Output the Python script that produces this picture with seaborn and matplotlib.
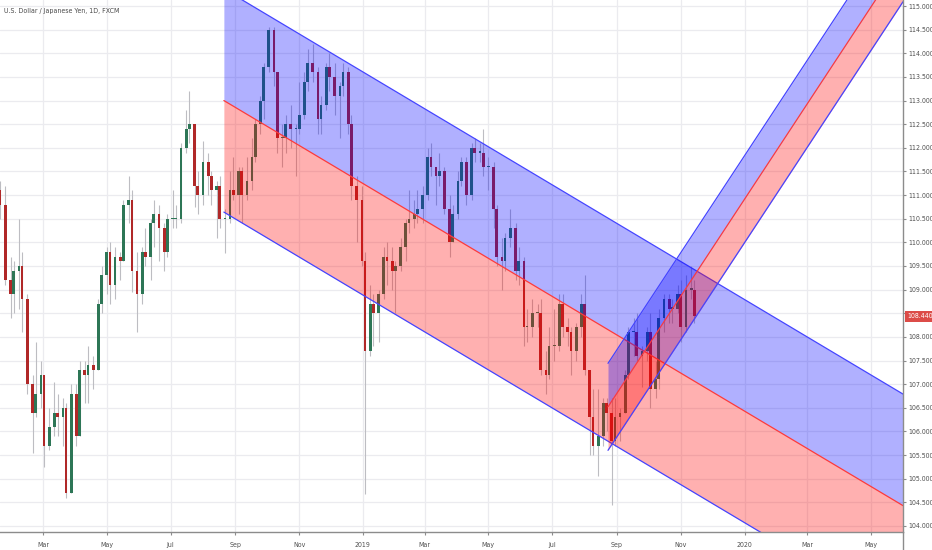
import numpy as np
import pandas as pd
import matplotlib
matplotlib.use("Agg")
import matplotlib.pyplot as plt
import matplotlib.dates as mdates
import matplotlib.transforms as mtransforms
from matplotlib import font_manager as fm
from matplotlib.ticker import MultipleLocator, FuncFormatter
from matplotlib.lines import Line2D
import seaborn as sns

# ---------------- data (USD/JPY, one candle per 3 trading days) ----------------
title = "U.S. Dollar / Japanese Yen, 1D, FXCM"
first_bar = "2018-01-19"
first_open = 111.1
closes = [110.8, 109.2, 108.9, 109.4, 109.5, 108.8, 107.0, 106.4, 106.8, 107.2,
          105.7, 106.1, 106.4, 106.3, 106.5, 104.7, 106.8, 105.9, 107.3, 107.2,
          107.4, 107.3, 108.7, 109.3, 109.8, 109.1, 109.7, 109.6, 110.8, 110.9,
          109.4, 108.9, 109.8, 109.7, 110.4, 110.6, 110.3, 109.8, 110.5, 110.5,
          110.5, 112.0, 112.4, 112.5, 111.2, 111.0, 111.7, 111.4, 111.1, 111.2,
          110.5, 110.5, 111.1, 111.0, 111.5, 111.0, 111.3, 111.8, 112.5, 113.0,
          113.7, 114.5, 113.6, 112.2, 112.2, 112.5, 112.4, 112.4, 112.7, 113.4,
          113.8, 113.6, 112.6, 112.9, 113.7, 113.5, 113.1, 113.3, 113.6, 112.5,
          111.2, 110.9, 109.6, 107.7, 108.7, 108.5, 108.9, 109.7, 109.6, 109.4,
          109.5, 109.9, 110.4, 110.5, 110.6, 110.7, 111.0, 111.8, 111.6, 111.4,
          111.5, 110.7, 110.0, 110.6, 111.3, 111.7, 111.0, 112.0, 111.9, 111.9,
          111.6, 111.6, 110.7, 109.7, 109.6, 110.1, 110.3, 109.4, 109.6, 108.2,
          108.2, 108.5, 108.5, 107.3, 107.2, 107.8, 107.8, 108.7, 108.2, 108.1,
          107.7, 108.2, 108.7, 107.3, 106.3, 105.7, 105.9, 106.6, 106.4, 105.8,
          106.3, 106.4, 107.2, 108.1, 108.1, 107.6, 107.7, 108.1, 106.9, 107.1,
          108.4, 108.8, 108.6, 108.6, 108.9, 108.2, 109.0, 109.0, 108.44]
highs = [111.3, 111.2, 109.7, 109.6, 110.5, 109.8, 108.9, 107.2, 107.9, 107.5,
         107.2, 106.5, 107.05, 106.8, 106.7, 106.6, 107.0, 107.0, 107.5, 107.5,
         107.8, 107.6, 108.8, 109.5, 109.9, 110.0, 109.9, 109.8, 110.9, 111.4,
         111.1, 109.8, 109.9, 110.3, 110.5, 110.9, 110.8, 110.4, 110.6, 111.1,
         110.8, 112.1, 112.8, 113.2, 112.5, 111.5, 112.15, 111.9, 111.5, 111.3,
         111.4, 110.7, 111.5, 111.8, 111.6, 111.6, 111.8, 112.2, 112.6, 113.1,
         113.8, 114.55, 114.55, 113.6, 112.5, 112.7, 112.9, 112.5, 113.4, 113.6,
         114.1, 114.2, 113.7, 113.1, 113.8, 114.0, 113.8, 113.4, 113.8, 113.7,
         112.7, 111.4, 111.2, 109.8, 109.1, 108.9, 109.0, 109.9, 110.0, 109.9,
         109.6, 110.1, 110.5, 111.1, 110.9, 111.1, 111.2, 112.0, 112.1, 111.6,
         111.9, 111.6, 111.0, 110.8, 111.5, 111.8, 111.8, 112.1, 112.2, 112.1,
         112.4, 111.8, 111.7, 110.8, 110.1, 110.2, 110.7, 110.4, 109.9, 109.7,
         108.6, 108.8, 108.7, 108.8, 107.7, 108.2, 108.6, 108.9, 108.9, 108.4,
         108.2, 108.3, 108.9, 109.3, 107.3, 106.9, 106.9, 106.7, 106.7, 106.7,
         106.7, 106.5, 107.3, 108.2, 108.4, 108.5, 107.8, 108.2, 108.5, 107.5,
         108.6, 108.9, 108.9, 108.8, 109.1, 109.2, 109.3, 109.5, 109.2]
lows = [110.5, 109.1, 108.4, 108.5, 108.6, 108.1, 106.8, 105.55, 106.3, 106.5,
        105.25, 105.6, 105.9, 105.9, 105.7, 104.6, 104.7, 105.7, 105.9, 106.6,
        106.6, 106.9, 107.3, 108.5, 108.9, 108.7, 108.8, 109.2, 109.6, 110.4,
        108.95, 108.1, 108.7, 109.5, 109.2, 109.9, 109.6, 109.4, 109.7, 110.3,
        110.3, 110.4, 111.9, 112.1, 110.75, 110.6, 110.8, 111.0, 110.8, 110.1,
        110.3, 109.77, 110.4, 110.9, 110.6, 110.4, 110.9, 111.1, 111.7, 112.3,
        112.6, 113.6, 113.3, 111.9, 111.6, 111.9, 112.0, 111.4, 112.3, 112.6,
        113.2, 113.4, 112.3, 112.3, 112.8, 113.2, 112.7, 112.2, 113.1, 112.3,
        110.9, 110.0, 109.5, 104.68, 107.6, 107.8, 107.9, 108.8, 109.1, 109.0,
        108.5, 109.4, 109.6, 110.2, 110.3, 110.4, 110.4, 110.9, 111.4, 110.8,
        111.2, 110.6, 109.7, 110.0, 110.5, 111.2, 110.8, 110.9, 111.7, 111.7,
        111.4, 111.1, 110.3, 109.5, 109.0, 109.4, 109.9, 109.2, 109.1, 107.8,
        107.9, 108.0, 108.2, 107.2, 106.8, 107.1, 107.5, 107.7, 108.0, 107.8,
        107.2, 107.5, 108.0, 107.2, 105.5, 105.5, 105.05, 105.7, 106.0, 104.45,
        105.7, 105.8, 106.4, 107.1, 107.6, 107.5, 106.95, 107.5, 106.5, 106.7,
        106.9, 108.1, 108.3, 108.3, 108.5, 107.9, 108.1, 108.8, 108.3]
last_price_label = "108.440"

# Parallel channels drawn on the chart: start date, end date, mid-line prices, half width
big_channel_dates = ["2018-08-21 00:00", "2020-05-31 14:00"]
big_channel_mid = [113.00, 104.43]
big_channel_half = 2.36
small_channel_dates = ["2019-08-23 10:00", "2020-05-31 14:00"]
small_channel_mid = [106.52, 116.01]
small_channel_half = 0.92

# time axis labels
month_ticks = ["2018-03-01", "2018-05-01", "2018-07-01", "2018-09-01", "2018-11-01",
               "2019-01-01", "2019-03-01", "2019-05-01", "2019-07-01", "2019-09-01",
               "2019-11-01", "2020-01-01", "2020-03-01", "2020-05-01"]
month_labels = ["Mar", "May", "Jul", "Sep", "Nov", "2019", "Mar", "May", "Jul",
                "Sep", "Nov", "2020", "Mar", "May"]

# ---------------- build frame ----------------
dates = pd.bdate_range(first_bar, periods=len(closes), freq="3B")
df = pd.DataFrame({"date": dates, "close": closes, "high": highs, "low": lows})
df["open"] = [first_open] + closes[:-1]
df["x"] = mdates.date2num(df["date"])
df["up"] = df["close"] >= df["open"]

# ---------------- style ----------------
sns.set_theme(style="white")

# pick a narrow sans face if one is installed (TradingView uses a compact font)
_entries = fm.fontManager.ttflist
_names = {f.name for f in _entries}
if "Liberation Sans Narrow" in _names:
    fam, stretch, fs = ["Liberation Sans Narrow", "DejaVu Sans"], "normal", 5.6
elif any(f.name == "DejaVu Sans" and str(f.stretch) in ("condensed", "semi-condensed")
         for f in _entries):
    fam, stretch, fs = ["DejaVu Sans"], "condensed", 5.0
else:
    fam, stretch, fs = ["Liberation Sans", "DejaVu Sans"], "normal", 4.8
plt.rcParams["font.family"] = fam
plt.rcParams["font.stretch"] = stretch

W, H = 932, 550
fig = plt.figure(figsize=(W / 100, H / 100), dpi=100)
fig.patch.set_facecolor("white")
ax = fig.add_axes([0, 18 / H, 903 / W, 532 / H])
ax.set_facecolor("white")

x_left = mdates.date2num(pd.Timestamp("2018-01-18 21:00"))
x_right = mdates.date2num(pd.Timestamp("2020-05-31 14:00"))
Y_LIM = (103.872, 115.127)

# ---------------- candles ----------------
up_col, dn_col, wick_col = "#2d7656", "#b02828", "#bdbdc2"
ax.vlines(df["x"], df["low"], df["high"], color=wick_col, linewidth=0.8, zorder=2)
body_bottom = np.minimum(df["open"], df["close"])
body_height = np.maximum(np.abs(df["close"] - df["open"]), 0.025)
colors = np.where(df["up"], up_col, dn_col)
ax.bar(df["x"], body_height, bottom=body_bottom, width=2.6, color=colors,
       edgecolor="none", linewidth=0, zorder=3, align="center")

# ---------------- channels ----------------
blue_fill, red_fill = (0, 0, 1.0, 0.31), (1.0, 0, 0, 0.31)
blue_line, red_line = "#4444ff", "#ff3a3a"


def draw_channel(dates_pair, mid_pair, half, z):
    xs = mdates.date2num(pd.to_datetime(dates_pair, format="%Y-%m-%d %H:%M"))
    mid = np.array(mid_pair)
    top = mid + half
    bot = mid - half
    ax.fill_between(xs, mid, top, color=blue_fill, linewidth=0, zorder=z)
    ax.fill_between(xs, bot, mid, color=red_fill, linewidth=0, zorder=z)
    lines = pd.DataFrame({
        "x": np.concatenate([xs, xs, xs]),
        "y": np.concatenate([top, mid, bot]),
        "line": ["top", "top", "mid", "mid", "bot", "bot"],
    })
    sns.lineplot(data=lines, x="x", y="y", hue="line",
                 palette={"top": blue_line, "mid": red_line, "bot": blue_line},
                 linewidth=0.9, legend=False, ax=ax, zorder=z + 0.5,
                 estimator=None, sort=False)


draw_channel(big_channel_dates, big_channel_mid, big_channel_half, 4)
draw_channel(small_channel_dates, small_channel_mid, small_channel_half, 6)

ax.set_xlim(x_left, x_right)
ax.set_ylim(*Y_LIM)
ax.set_xlabel("")
ax.set_ylabel("")

# grid / ticks
last_close = float(closes[-1])
ax.set_xticks(mdates.date2num(pd.to_datetime(month_ticks)))
ax.set_xticklabels(month_labels)
ax.yaxis.set_major_locator(MultipleLocator(0.5))
# the price scale hides the level label that sits under the last-price tag
ax.yaxis.set_major_formatter(
    FuncFormatter(lambda v, p: "" if abs(v - last_close) < 0.2 else f"{v:.3f}"))
ax.grid(True, color="#ebebef", linewidth=0.9, zorder=0)
ax.set_axisbelow(True)

# ---------------- axes look ----------------
for s in ["top", "left"]:
    ax.spines[s].set_visible(False)
for s in ["right", "bottom"]:
    ax.spines[s].set_visible(True)
    ax.spines[s].set_color("#8c8c8c")
    ax.spines[s].set_linewidth(1.0)
    ax.spines[s].set_zorder(10)

ax.yaxis.tick_right()
ax.tick_params(axis="y", which="major", right=True, left=False, length=2.5,
               width=0.8, color="#8c8c8c", pad=1.2, labelsize=fs,
               labelcolor="#505050")
ax.tick_params(axis="x", which="major", bottom=True, length=2.5, width=0.8,
               color="#8c8c8c", pad=4.5, labelsize=fs, labelcolor="#505050")
for lab in ax.get_yticklabels() + ax.get_xticklabels():
    lab.set_family(fam)
    lab.set_stretch(stretch)

# right axis line continues down through the time scale
fig.add_artist(Line2D([903 / W, 903 / W], [0, 18 / H], color="#8c8c8c",
                      linewidth=1.0, transform=fig.transFigure))

# last price label
trans = mtransforms.blended_transform_factory(ax.transAxes, ax.transData)
ax.text(1.005, last_close, last_price_label, transform=trans,
        ha="left", va="center", fontsize=fs, color="white", family=fam,
        stretch=stretch,
        bbox=dict(boxstyle="square,pad=0.35", fc="#dc4c48", ec="none"),
        zorder=12, clip_on=False)

# title
fig.text(4 / W, 1 - 11 / H, title, ha="left", va="center", fontsize=fs,
         color="#4a4a4a", family=fam, stretch=stretch)

fig.savefig("out.png", dpi=100, facecolor="white")
